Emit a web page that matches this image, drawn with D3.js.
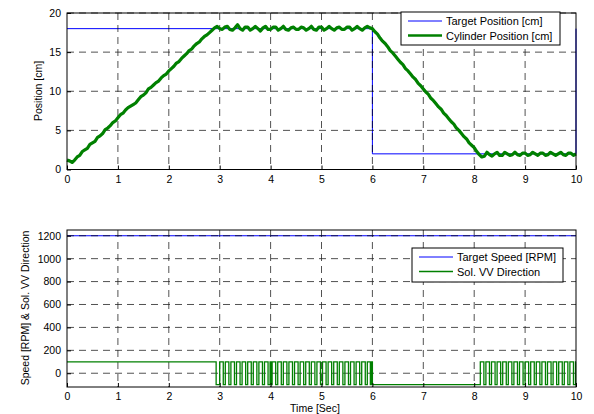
<!DOCTYPE html>
<html>
<head>
<meta charset="utf-8">
<script src="https://cdn.jsdelivr.net/npm/d3@7"></script>
<style>
  body { margin: 0; background: #fff; }
  svg { display: block; font-family: "Liberation Sans", Arial, sans-serif; }
</style>
</head>
<body>
<div id="chart"></div>
<script>
// ---- data ----
var timeTicks = [0, 1, 2, 3, 4, 5, 6, 7, 8, 9, 10];
var posTicks = [0, 5, 10, 15, 20];
var speedTicks = [0, 200, 400, 600, 800, 1000, 1200];

// target position, step profile [time, cm]
var targetPos = [[0, 18], [6, 18], [6, 2], [10, 2], [10, 18]];

// cylinder position sampled every 0.05 s from 0 to 10 s
var cylStep = 0.05;
var cylPos = [
  1.2, 1.1, 0.9, 1.2, 1.6, 1.8, 2.3, 2.5, 2.7, 3.2,
  3.4, 3.6, 4.1, 4.3, 4.6, 5.1, 5.3, 5.6, 6.0, 6.2,
  6.6, 7.0, 7.2, 7.6, 7.9, 8.1, 8.3, 8.5, 8.9, 9.3,
  9.5, 9.8, 10.3, 10.5, 10.8, 11.1, 11.3, 11.7, 12.0, 12.2,
  12.6, 12.9, 13.2, 13.6, 13.8, 14.2, 14.5, 14.8, 15.2, 15.4,
  15.8, 16.1, 16.3, 16.7, 17.0, 17.2, 17.5, 17.8, 18.1, 18.3,
  18.0, 17.9, 18.2, 18.3, 17.9, 17.8, 18.1, 18.5, 18.0, 17.8,
  18.2, 18.2, 17.8, 18.0, 18.3, 18.0, 17.7, 18.1, 18.3, 17.9,
  17.9, 18.2, 18.2, 17.8, 18.0, 18.3, 17.9, 17.8, 18.1, 18.2,
  17.9, 17.9, 18.2, 18.1, 17.8, 18.0, 18.3, 17.9, 17.8, 18.2,
  18.2, 17.8, 18.0, 18.3, 18.0, 17.8, 18.1, 18.2, 17.9, 17.9,
  18.2, 18.2, 17.8, 18.0, 18.3, 18.0, 17.8, 18.1, 18.3, 18.1,
  18.0, 17.6, 17.3, 16.8, 16.4, 16.1, 15.7, 15.2, 14.9, 14.5,
  14.1, 13.7, 13.4, 12.9, 12.6, 12.2, 11.8, 11.5, 11.0, 10.7,
  10.3, 9.9, 9.6, 9.1, 8.8, 8.4, 8.0, 7.7, 7.2, 6.9,
  6.5, 6.1, 5.8, 5.3, 5.0, 4.6, 4.2, 3.9, 3.4, 3.1,
  2.8, 2.3, 1.9, 1.6, 1.7, 2.2, 1.9, 1.7, 2.0, 2.2,
  1.8, 1.8, 2.2, 2.0, 1.8, 1.9, 2.2, 1.9, 1.8, 2.1,
  2.1, 1.8, 1.9, 2.2, 2.0, 1.8, 2.1, 2.1, 1.8, 1.9,
  2.2, 2.0, 1.8, 2.0, 2.2, 1.9, 1.8, 2.1, 2.1, 1.8,
  2.0
];

// target speed [time, rpm]
var targetSpeed = [[0, 1200], [10, 1200]];

// solenoid valve direction: levels and the times it toggles (starts high)
var solHigh = 100, solLow = -100;
var solToggles = [
  2.93, 3.00, 3.07, 3.11, 3.18, 3.22, 3.29, 3.33, 3.40, 3.44,
  3.51, 3.55, 3.62, 3.66, 3.73, 3.77, 3.84, 3.88, 3.95, 3.99,
  4.01, 4.03, 4.10, 4.14, 4.21, 4.25, 4.32, 4.36, 4.43, 4.47,
  4.54, 4.58, 4.65, 4.69, 4.76, 4.80, 4.87, 4.91, 4.98, 5.02,
  5.09, 5.13, 5.20, 5.24, 5.31, 5.35, 5.42, 5.46, 5.53, 5.57,
  5.64, 5.68, 5.75, 5.79, 5.86, 5.90, 5.96, 5.98, 6.00,
  8.12, 8.19, 8.23, 8.30, 8.34, 8.41, 8.45, 8.52, 8.56, 8.63,
  8.67, 8.74, 8.78, 8.85, 8.89, 8.96, 9.00, 9.07, 9.11, 9.18,
  9.22, 9.29, 9.33, 9.40, 9.44, 9.51, 9.55, 9.62, 9.66, 9.73,
  9.77, 9.84, 9.88, 9.95, 9.99
];

// ---- layout ----
var W = 594, H = 414;
var svg = d3.select("#chart").append("svg").attr("width", W).attr("height", H);

var x = d3.scaleLinear().domain([0, 10]).range([67, 576]);
var yTop = d3.scaleLinear().domain([0, 20]).range([169.5, 13]);
var yBot = d3.scaleLinear().domain([-120, 1250]).range([387, 230]);

var blue = "#0000ff", green = "#008000";

function drawPanel(y, yTicks, layers) {
  var g = svg.append("g");
  var x0 = x.range()[0], x1 = x.range()[1];
  var y0 = y.range()[0], y1 = y.range()[1];

  g.append("rect").attr("x", x0).attr("y", y1)
    .attr("width", x1 - x0).attr("height", y0 - y1).attr("fill", "#fff");

  var clipId = "clip" + Math.round(y1);
  svg.append("clipPath").attr("id", clipId).append("rect")
    .attr("x", x0 - 1).attr("y", y1 - 1).attr("width", x1 - x0 + 2).attr("height", y0 - y1 + 2);

  var under = g.append("g").attr("clip-path", "url(#" + clipId + ")");
  layers.under(under);

  // grid
  var grid = g.append("g").attr("stroke", "#000").attr("stroke-width", 0.8)
    .attr("stroke-dasharray", "7,5").attr("opacity", 0.85);
  grid.selectAll(".gx").data(timeTicks.slice(1, -1)).enter().append("line")
    .attr("x1", function(d) { return x(d); }).attr("x2", function(d) { return x(d); })
    .attr("y1", y1).attr("y2", y0);
  grid.selectAll(".gy").data(yTicks).enter().append("line")
    .attr("x1", x0).attr("x2", x1)
    .attr("y1", function(d) { return y(d); }).attr("y2", function(d) { return y(d); });

  var over = g.append("g").attr("clip-path", "url(#" + clipId + ")");
  layers.over(over);

  // axes with inner ticks
  var ax = d3.axisBottom(x).tickValues(timeTicks).tickFormat(d3.format("d"))
    .tickSizeInner(-4).tickSizeOuter(0).tickPadding(6);
  var gx = g.append("g").attr("transform", "translate(0," + y0 + ")").call(ax);
  var ay = d3.axisLeft(y).tickValues(yTicks).tickFormat(d3.format("d"))
    .tickSizeInner(-4).tickSizeOuter(0).tickPadding(6);
  var gy = g.append("g").attr("transform", "translate(" + x0 + ",0)").call(ay);
  [gx, gy].forEach(function(a) {
    a.select(".domain").remove();
    a.selectAll("text").attr("font-size", "10.5px").attr("fill", "#000")
      .attr("font-family", "Liberation Sans, Arial, sans-serif");
    a.selectAll("line").attr("stroke", "#000");
  });
  g.append("rect").attr("x", x0).attr("y", y1)
    .attr("width", x1 - x0).attr("height", y0 - y1)
    .attr("fill", "none").attr("stroke", "#000").attr("stroke-width", 1);
  return g;
}

function legend(bx, by, bw, bh, items) {
  var lg = svg.append("g");
  lg.append("rect").attr("x", bx).attr("y", by).attr("width", bw).attr("height", bh)
    .attr("fill", "#fff").attr("stroke", "#000").attr("stroke-width", 1);
  items.forEach(function(it, i) {
    var yy = by + 9 + i * 14.5;
    lg.append("line").attr("x1", bx + 7).attr("x2", bx + 41)
      .attr("y1", yy).attr("y2", yy).attr("stroke", it.color).attr("stroke-width", it.w);
    lg.append("text").attr("x", bx + 45).attr("y", yy + 4)
      .attr("font-size", "11px").attr("fill", "#000").text(it.label);
  });
}

// ---- top panel: position ----
var line = d3.line().x(function(d) { return x(d[0]); });
drawPanel(yTop, posTicks, {
  under: function(g) {
    g.append("path").datum(targetPos)
      .attr("d", line.y(function(d) { return yTop(d[1]); }))
      .attr("fill", "none").attr("stroke", blue).attr("stroke-width", 1);
  },
  over: function(g) {
    var pts = cylPos.map(function(v, i) { return [i * cylStep, v]; });
    g.append("path").datum(pts)
      .attr("d", d3.line().x(function(d) { return x(d[0]); }).y(function(d) { return yTop(d[1]); }))
      .attr("fill", "none").attr("stroke", green).attr("stroke-width", 3.2)
      .attr("stroke-linejoin", "round");
  }
});
legend(401, 12, 159, 33, [
  { label: "Target Position [cm]", color: blue, w: 1 },
  { label: "Cylinder Position [cm]", color: green, w: 2.5 }
]);

// ---- bottom panel: speed & valve direction ----
drawPanel(yBot, speedTicks, {
  under: function(g) {
    g.append("path").datum(targetSpeed)
      .attr("d", d3.line().x(function(d) { return x(d[0]); }).y(function(d) { return yBot(d[1]); }))
      .attr("fill", "none").attr("stroke", blue).attr("stroke-width", 1.2);
  },
  over: function(g) {
    var pts = [[0, solHigh]];
    var level = solHigh;
    solToggles.forEach(function(t) {
      pts.push([t, level]);
      level = level === solHigh ? solLow : solHigh;
      pts.push([t, level]);
    });
    pts.push([10, level]);
    g.append("path").datum(pts)
      .attr("d", d3.line().x(function(d) { return x(d[0]); }).y(function(d) { return yBot(d[1]); }))
      .attr("fill", "none").attr("stroke", green).attr("stroke-width", 1.3);
  }
});
legend(412, 248, 151, 34, [
  { label: "Target Speed [RPM]", color: blue, w: 1 },
  { label: "Sol. VV Direction", color: green, w: 1.5 }
]);

// ---- axis titles ----
svg.append("text").attr("transform", "translate(42,91) rotate(-90)")
  .attr("text-anchor", "middle").attr("font-size", "10.5px").text("Position [cm]");
svg.append("text").attr("transform", "translate(29,308) rotate(-90)")
  .attr("text-anchor", "middle").attr("font-size", "10.5px").text("Speed [RPM] & Sol. VV Direction");
svg.append("text").attr("x", 315).attr("y", 412)
  .attr("text-anchor", "middle").attr("font-size", "10.5px").text("Time [Sec]");
</script>
</body>
</html>
